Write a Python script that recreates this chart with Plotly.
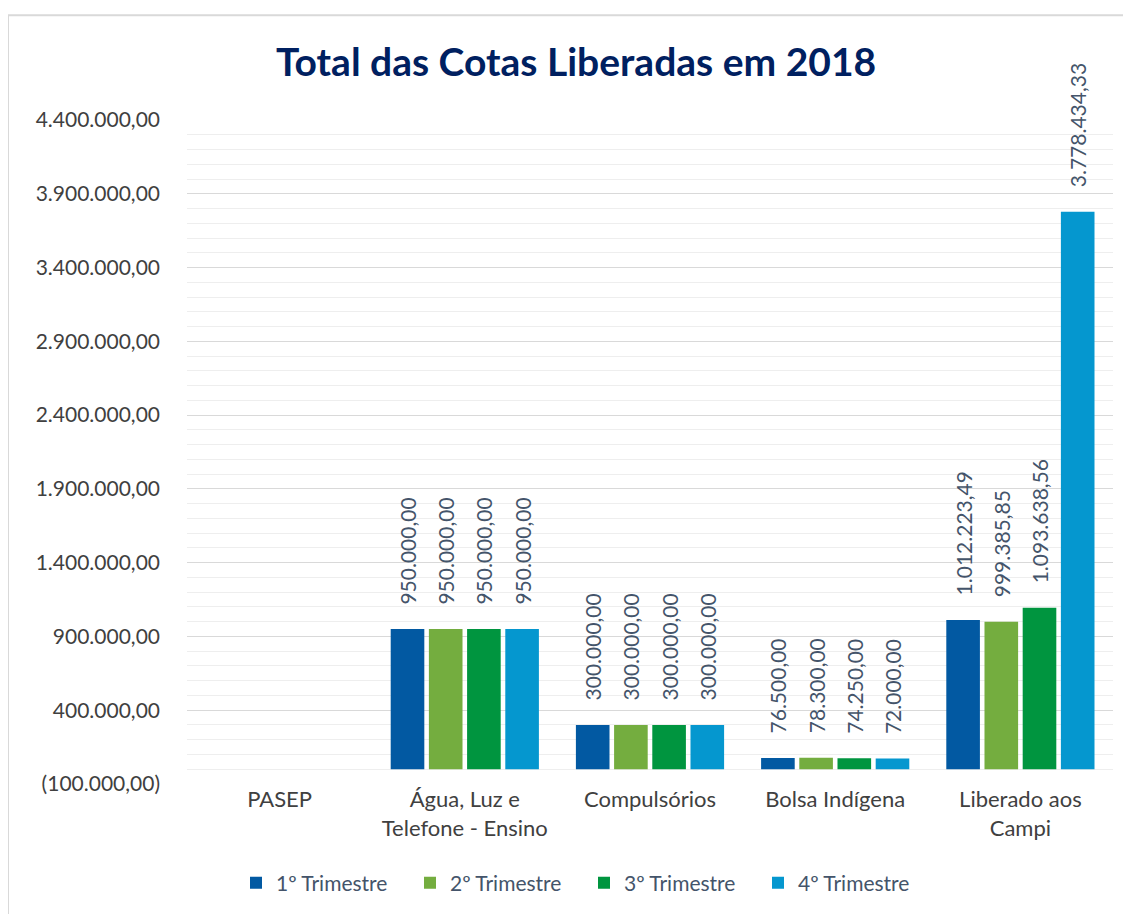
import plotly.graph_objects as go

categories = ["PASEP", "Água, Luz e<br>Telefone - Ensino", "Compulsórios", "Bolsa Indígena", "Liberado aos<br>Campi"]
series_names = ["1º Trimestre", "2º Trimestre", "3º Trimestre", "4º Trimestre"]
q1 = [0, 950000.00, 300000.00, 76500.00, 1012223.49]
q2 = [0, 950000.00, 300000.00, 78300.00, 999385.85]
q3 = [0, 950000.00, 300000.00, 74250.00, 1093638.56]
q4 = [0, 950000.00, 300000.00, 72000.00, 3778434.33]
ytick_vals = [-100000, 400000, 900000, 1400000, 1900000, 2400000, 2900000, 3400000, 3900000, 4400000]
ytick_text = ["(100.000,00)", "400.000,00", "900.000,00", "1.400.000,00", "1.900.000,00",
              "2.400.000,00", "2.900.000,00", "3.400.000,00", "3.900.000,00", "4.400.000,00"]

colors = ["#0259A2", "#74AD3F", "#00953F", "#0597CF"]
FONT = "Lato"
OFF = 8  # page body margin


def fmt_br(v):
    s = f"{v:,.2f}"
    return s.replace(",", "X").replace(".", ",").replace("X", ".")


fig = go.Figure()
for name, vals, col in zip(series_names, [q1, q2, q3, q4], colors):
    fig.add_trace(go.Bar(
        x=categories, y=vals, name=name,
        marker=dict(color=col, line=dict(width=0)),
        text=["\u00a0\u00a0\u00a0\u00a0" + fmt_br(v) if v else "" for v in vals],
        textposition="outside", textangle=-90, constraintext="none",
        cliponaxis=False,
        textfont=dict(family=FONT, size=21, color="#44546A"),
    ))

W, H = 1131 - OFF, 914 - OFF
L = 187 - OFF
T = 120 - OFF
R = W - (1113 - OFF)
B = H - (785 - OFF)
pw, ph = W - L - R, H - T - B


def px_x(p):
    return (p - OFF - L) / pw


def px_y(p):
    return (H - B - (p - OFF)) / ph


fig.update_layout(
    width=W, height=H,
    margin=dict(l=L, r=R, t=T, b=B),
    paper_bgcolor="white", plot_bgcolor="white",
    barmode="group", bargap=0.175, bargroupgap=0.12,
    title=dict(text="<b>Total das Cotas Liberadas em 2018</b>",
               x=(576 - OFF) / W, xref="container", xanchor="center",
               y=1 - (62 - OFF) / H, yref="container", yanchor="middle",
               font=dict(family=FONT, size=39, color="#002060")),
    font=dict(family=FONT, size=21, color="#404040"),
    showlegend=True,
    legend=dict(orientation="h", x=px_x(236), xanchor="left",
                y=px_y(883), yanchor="middle",
                font=dict(family=FONT, size=21, color="#44546A"),
                entrywidth=129, entrywidthmode="pixels",
                itemsizing="constant", traceorder="normal"),
    shapes=[dict(type="rect", xref="paper", yref="paper",
                 x0=px_x(8), x1=px_x(1145),
                 y0=px_y(930), y1=px_y(15),
                 line=dict(color="#D9D9D9", width=2), fillcolor="rgba(0,0,0,0)",
                 layer="below")],
)

fig.update_xaxes(showline=False, showgrid=False, ticks="",
                 tickfont=dict(family=FONT, size=22, color="#404040"))
fig.update_yaxes(range=[-100000, 4400000], tickvals=ytick_vals, ticktext=ytick_text,
                 showgrid=True, gridcolor="#D9D9D9", gridwidth=1,
                 zeroline=False, showline=False, ticks="",
                 ticklabelstandoff=26,
                 tickfont=dict(family=FONT, size=21, color="#404040"),
                 minor=dict(tick0=0, dtick=100000, showgrid=True,
                            gridcolor="#EEEEEE", gridwidth=1))

fig.write_html("out.html")
